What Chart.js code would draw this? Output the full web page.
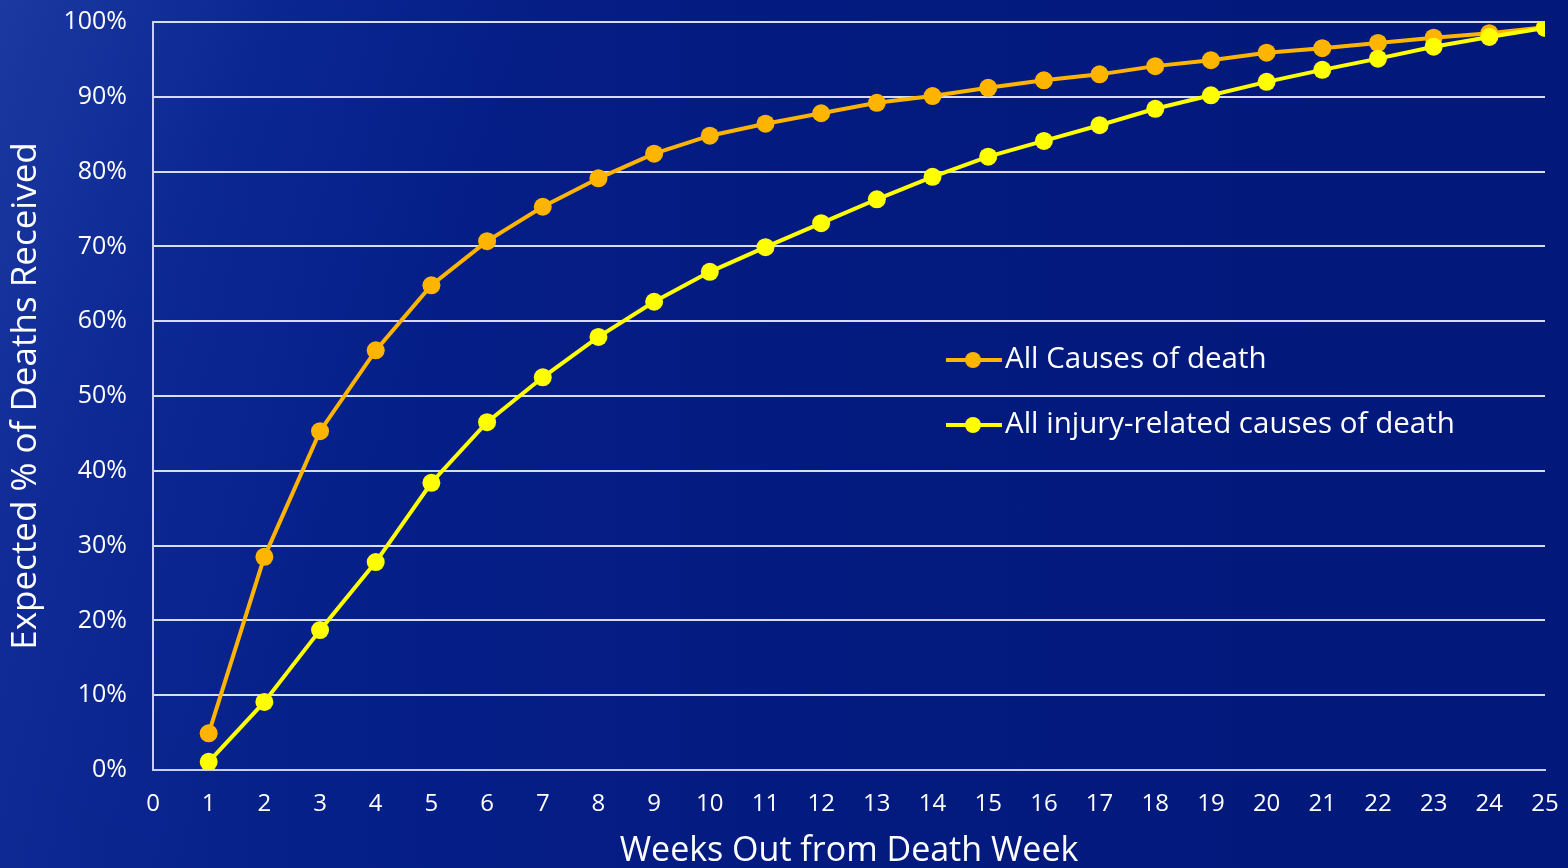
<!DOCTYPE html>
<html>
<head>
<meta charset="utf-8">
<script src="https://cdn.jsdelivr.net/npm/chart.js@4.4.0/dist/chart.umd.min.js"></script>
<style>
  html, body { margin: 0; padding: 0; }
  body {
    width: 1568px; height: 868px; overflow: hidden;
    background:
      linear-gradient(115deg, rgba(60,100,200,0.30) 0%, rgba(40,80,190,0.12) 14%, rgba(0,0,0,0) 30%),
      linear-gradient(90deg, #0d2690 0%, #06208a 20%, #031a80 50%, #02187a 100%);
  }
  #wrap { position: relative; width: 1568px; height: 868px; }
</style>
</head>
<body>
<div id="wrap"><canvas id="myChart" width="1568" height="868"></canvas></div>
<script>
var weeks = [1, 2, 3, 4, 5, 6, 7, 8, 9, 10, 11, 12, 13, 14, 15, 16, 17, 18, 19, 20, 21, 22, 23, 24, 25];
var allCauses = [4.9, 28.5, 45.3, 56.1, 64.8, 70.7, 75.3, 79.1, 82.4, 84.8, 86.4, 87.8, 89.2, 90.1, 91.2,
                 92.2, 93.0, 94.1, 94.9, 95.9, 96.5, 97.2, 97.9, 98.5, 99.3];
var injuryCauses = [1.1, 9.1, 18.7, 27.8, 38.4, 46.5, 52.5, 57.9, 62.6, 66.6, 69.9, 73.1, 76.3, 79.3, 82.0,
                    84.1, 86.2, 88.4, 90.2, 92.0, 93.6, 95.1, 96.7, 98.0, 99.2];
var seriesLabels = ['All Causes of death', 'All injury-related causes of death'];
var xTitle = 'Weeks Out from Death Week';
var yTitle = 'Expected % of Deaths Received';

var fontFamily = '"Open Sans", "Noto Sans", sans-serif';

function toPoints(values) {
    return weeks.map(function (w, i) { return { x: w, y: values[i] }; });
}

// legend drawn inside the plot area
var innerLegend = {
    id: 'innerLegend',
    afterDraw: function (chart) {
        var ctx = chart.ctx;
        var area = chart.chartArea;
        var left = area.left + 793;
        var top = area.top + 338;
        ctx.save();
        ctx.font = '29.5px ' + fontFamily;
        ctx.textBaseline = 'middle';
        chart.data.datasets.forEach(function (ds, i) {
            var y = top + i * 65;
            ctx.strokeStyle = ds.borderColor;
            ctx.lineWidth = 4;
            ctx.beginPath();
            ctx.moveTo(left, y);
            ctx.lineTo(left + 56, y);
            ctx.stroke();
            ctx.fillStyle = ds.backgroundColor;
            ctx.beginPath();
            ctx.arc(left + 27, y, 8, 0, Math.PI * 2);
            ctx.fill();
            ctx.fillStyle = '#ffffff';
            ctx.fillText(ds.label, left + 59, y);
        });
        ctx.restore();
    }
};

var ctx = document.getElementById('myChart').getContext('2d');
var myChart = new Chart(ctx, {
    type: 'line',
    data: {
        datasets: [{
            label: seriesLabels[0],
            data: toPoints(allCauses),
            borderColor: '#ffb400',
            backgroundColor: '#ffb400',
            borderWidth: 4,
            pointRadius: 9,
            pointBorderWidth: 0,
            order: 1
        }, {
            label: seriesLabels[1],
            data: toPoints(injuryCauses),
            borderColor: '#ffff00',
            backgroundColor: '#ffff00',
            borderWidth: 4,
            pointRadius: 9,
            pointBorderWidth: 0,
            order: 0
        }]
    },
    options: {
        responsive: false,
        animation: false,
        layout: { autoPadding: false, padding: { top: 22, right: 23, left: 0, bottom: 0 } },
        plugins: {
            legend: { display: false },
            tooltip: { enabled: false }
        },
        scales: {
            x: {
                type: 'linear',
                min: 0,
                max: 25,
                ticks: { stepSize: 1, color: '#ffffff', font: { family: fontFamily, size: 24 }, padding: 20, maxRotation: 0 },
                grid: { display: false, drawTicks: false },
                border: { display: true, color: '#c8d0f0', width: 2 },
                title: { display: true, text: xTitle, color: '#ffffff', font: { family: fontFamily, size: 34, lineHeight: 1 }, padding: { top: 14, bottom: 0 } },
                afterFit: function (scale) {
                    scale.height = 98;
                    scale.paddingLeft = 0;
                    scale.paddingRight = 0;
                }
            },
            y: {
                min: 0,
                max: 100,
                ticks: {
                    stepSize: 10, color: '#ffffff', font: { family: fontFamily, size: 25 }, padding: 26,
                    callback: function (v) { return v + '%'; }
                },
                grid: { color: '#d6dcf4', lineWidth: 2, drawTicks: false },
                border: { display: true, color: '#c8d0f0', width: 2 },
                title: { display: true, text: yTitle, color: '#ffffff', font: { family: fontFamily, size: 35 }, padding: { top: 5, bottom: 0 } },
                afterFit: function (scale) {
                    scale.width = 153;
                    scale.paddingTop = 0;
                    scale.paddingBottom = 0;
                }
            }
        }
    },
    plugins: [innerLegend]
});
</script>
</body>
</html>
